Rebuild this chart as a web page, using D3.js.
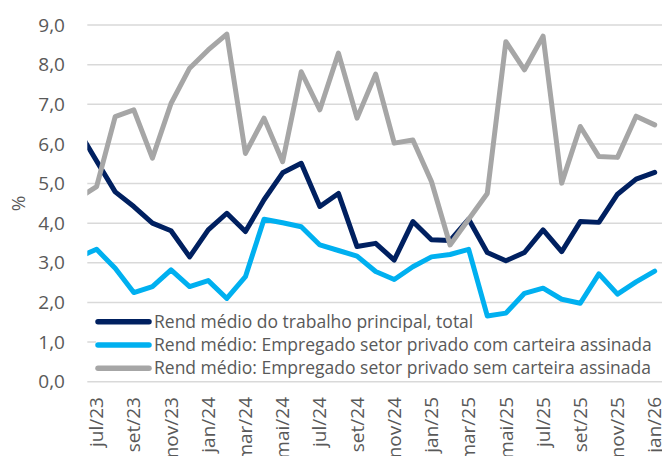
<!DOCTYPE html>
<html>
<head>
<meta charset="utf-8">
<script src="https://cdn.jsdelivr.net/npm/d3@7"></script>
<style>
  body { margin: 0; background: #fff; }
  svg { display: block; font-family: "Open Sans", "Noto Sans", sans-serif; }
</style>
</head>
<body>
<div id="chart"></div>
<script>
// monthly categories (jun/23 sits just left of the visible area, as in the source chart)
const categories = ["jun/23", "jul/23", "ago/23", "set/23", "out/23", "nov/23", "dez/23",
  "jan/24", "fev/24", "mar/24", "abr/24", "mai/24", "jun/24", "jul/24", "ago/24", "set/24",
  "out/24", "nov/24", "dez/24", "jan/25", "fev/25", "mar/25", "abr/25", "mai/25", "jun/25",
  "jul/25", "ago/25", "set/25", "out/25", "nov/25", "dez/25", "jan/26"];

const tickLabels = ["jul/23", "set/23", "nov/23", "jan/24", "mar/24", "mai/24", "jul/24",
  "set/24", "nov/24", "jan/25", "mar/25", "mai/25", "jul/25", "set/25", "nov/25", "jan/26"];

const yTicks = [0, 1, 2, 3, 4, 5, 6, 7, 8, 9];

const total = [6.36, 5.57, 4.79, 4.42, 4.00, 3.81, 3.15, 3.83, 4.25, 3.79, 4.59, 5.27, 5.51,
  4.42, 4.75, 3.41, 3.49, 3.07, 4.04, 3.58, 3.56, 4.10, 3.26, 3.05, 3.26, 3.83, 3.28, 4.04,
  4.02, 4.73, 5.11, 5.28];

const comCarteira = [3.14, 3.34, 2.86, 2.25, 2.40, 2.82, 2.40, 2.55, 2.10, 2.65, 4.10, 4.01,
  3.91, 3.45, 3.31, 3.17, 2.78, 2.58, 2.90, 3.15, 3.21, 3.34, 1.66, 1.73, 2.23, 2.36, 2.08,
  1.98, 2.72, 2.21, 2.52, 2.79];

const semCarteira = [4.62, 4.92, 6.69, 6.86, 5.64, 7.02, 7.91, 8.37, 8.77, 5.76, 6.65, 5.55,
  7.82, 6.86, 8.29, 6.65, 7.76, 6.02, 6.10, 5.05, 3.45, 4.10, 4.75, 8.58, 7.87, 8.72, 5.01,
  6.44, 5.68, 5.66, 6.70, 6.48];

const seriesNames = [
  "Rend médio do trabalho principal, total",
  "Rend médio: Empregado setor privado com carteira assinada",
  "Rend médio: Empregado setor privado sem carteira assinada"
];
const seriesColors = ["#002060", "#00B0F0", "#A6A6A6"];
const series = [total, comCarteira, semCarteira];

const width = 662, height = 456;
const plotLeft = 87.3, plotRight = 664, plotTop = 25, plotBottom = 381.7;

const svg = d3.select("#chart").append("svg")
  .attr("width", width)
  .attr("height", height);

const x = d3.scaleLinear().domain([0.5, categories.length - 0.5]).range([plotLeft, plotRight]);
const y = d3.scaleLinear().domain([0, 9]).range([plotBottom, plotTop]);

svg.append("clipPath").attr("id", "plot")
  .append("rect")
  .attr("x", plotLeft).attr("y", 0)
  .attr("width", width - plotLeft).attr("height", height);

// gridlines
svg.append("g")
  .selectAll("line")
  .data(yTicks)
  .enter().append("line")
  .attr("x1", plotLeft).attr("x2", width)
  .attr("y1", d => y(d)).attr("y2", d => y(d))
  .attr("stroke", "#D9D9D9")
  .attr("stroke-width", 1.5);

// y tick labels
svg.append("g")
  .selectAll("text")
  .data(yTicks)
  .enter().append("text")
  .attr("x", 65)
  .attr("y", d => y(d))
  .attr("dy", "0.35em")
  .attr("text-anchor", "end")
  .attr("fill", "#595959")
  .style("font-size", "19px")
  .text(d => d3.format(".1f")(d).replace(".", ","));

svg.append("text")
  .attr("transform", "translate(18," + y(4.5) + ") rotate(-90)")
  .attr("dy", "0.35em")
  .attr("text-anchor", "middle")
  .attr("fill", "#595959")
  .style("font-size", "19px")
  .text("%");

// x tick labels (cut by the bottom edge, like the source image)
svg.append("g")
  .selectAll("text")
  .data(tickLabels)
  .enter().append("text")
  .attr("transform", d => "translate(" + x(categories.indexOf(d)) + ",397) rotate(-90)")
  .attr("dy", "0.35em")
  .attr("text-anchor", "end")
  .attr("fill", "#595959")
  .style("font-size", "19px")
  .text(d => d);

const line = d3.line()
  .x((d, i) => x(i))
  .y(d => y(d));

// legend background
svg.append("rect")
  .attr("x", 96).attr("y", 333)
  .attr("width", width - 96).attr("height", 45)
  .attr("fill", "#fff");

svg.append("g")
  .attr("clip-path", "url(#plot)")
  .selectAll("path")
  .data(series)
  .enter().append("path")
  .attr("d", line)
  .attr("fill", "none")
  .attr("stroke", (d, i) => seriesColors[i])
  .attr("stroke-width", 5)
  .attr("stroke-linejoin", "round")
  .attr("stroke-linecap", "round");

// legend
const legend = svg.append("g")
  .selectAll("g")
  .data(seriesNames)
  .enter().append("g")
  .attr("transform", (d, i) => "translate(0," + (321.7 + i * 23.3) + ")");

legend.append("line")
  .attr("x1", 98).attr("x2", 149)
  .attr("stroke", (d, i) => seriesColors[i])
  .attr("stroke-width", 5.5)
  .attr("stroke-linecap", "round");

legend.append("text")
  .attr("x", 154)
  .attr("dy", "0.35em")
  .attr("fill", "#595959")
  .style("font-size", "17.5px")
  .text(d => d);
</script>
</body>
</html>
